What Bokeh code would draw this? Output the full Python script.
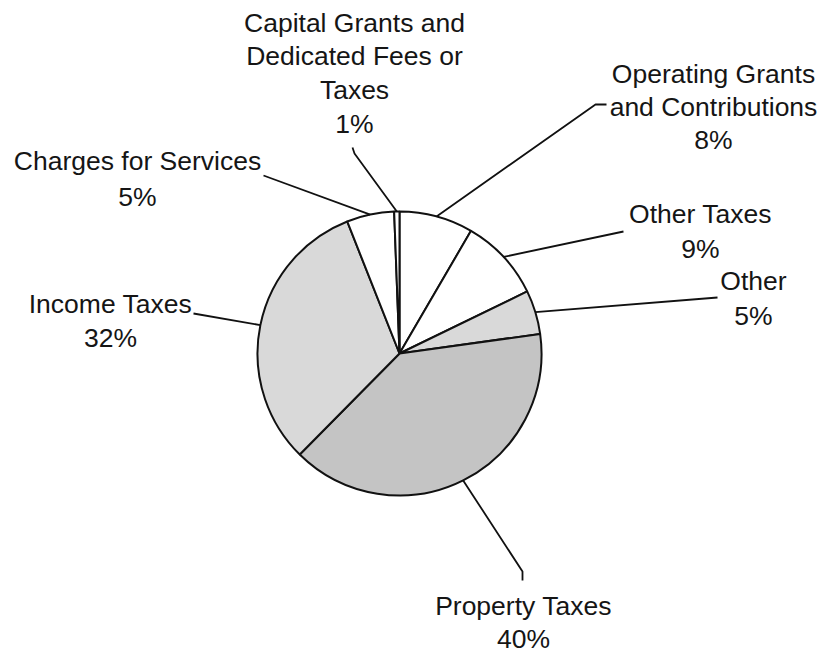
import math
from bokeh.plotting import figure
from bokeh.models import Range1d, ColumnDataSource
from bokeh.embed import file_html
from bokeh.resources import INLINE
from bokeh.core.properties import value

# ---- data (clockwise from 12 o'clock) ----
categories = [
    "Operating Grants\nand Contributions",
    "Other Taxes",
    "Other",
    "Property Taxes",
    "Income Taxes",
    "Charges for Services",
    "Capital Grants and\nDedicated Fees or\nTaxes",
]
shares = [8.4, 9.4, 5.0, 39.6, 31.6, 5.4, 0.6]
colors = ["#ffffff", "#ffffff", "#d9d9d9", "#c4c4c4", "#d9d9d9", "#ffffff", "#ffffff"]

# ---- layout (reference pixel coordinates, y downward) ----
W, H = 822, 652
CX, CY, R = 399, 353, 142
# label block: centre x, first line y, line spacing
label_pos = [
    (713, 73, 33),
    (700, 213, 35),
    (753, 280, 35),
    (523, 605, 33),
    (110, 303, 34),
    (137, 160, 36),
    (354, 22, 33.7),
]
# leader elbows after the point on the rim
leader_pts = [
    [(595, 104), (606, 104)],
    [(623, 231)],
    [(717, 297)],
    [(522, 571), (522, 580)],
    [(193, 313)],
    [(263, 175)],
    [(354, 153), (352, 147)],
]

def fy(y):
    return H - y

p = figure(width=W, height=H, output_backend="svg", toolbar_location=None,
           x_range=Range1d(0, W), y_range=Range1d(0, H),
           x_axis_location=None, y_axis_location=None, min_border=0)
p.grid.visible = False
p.outline_line_color = None
p.background_fill_color = "white"
p.border_fill_color = "white"

total = sum(shares)
starts, ends, mids = [], [], []
cum = 0.0
for s in shares:
    a0 = math.pi / 2 - 2 * math.pi * cum / total
    cum += s
    a1 = math.pi / 2 - 2 * math.pi * cum / total
    starts.append(a1)
    ends.append(a0)
    mids.append((a0 + a1) / 2)

src = ColumnDataSource(dict(x=[CX] * len(shares), y=[fy(CY)] * len(shares),
                            start=starts, end=ends, color=colors))
p.wedge(x="x", y="y", radius=R, start_angle="start", end_angle="end",
        fill_color="color", line_color="#111111", line_width=2, source=src)

# leader lines
xs, ys = [], []
for m, pts in zip(mids, leader_pts):
    lx = [CX + R * math.cos(m)] + [pt[0] for pt in pts]
    ly = [fy(CY) + R * math.sin(m)] + [fy(pt[1]) for pt in pts]
    xs.append(lx)
    ys.append(ly)
p.multi_line(xs=xs, ys=ys, line_color="#111111", line_width=1.8)

# labels
tx, ty, tt = [], [], []
for name, s, (lx, ly, sp) in zip(categories, shares, label_pos):
    lines = name.split("\n") + [f"{round(s)}%"]
    for i, ln in enumerate(lines):
        tx.append(lx)
        ty.append(fy(ly + i * sp))
        tt.append(ln)
p.text(x=tx, y=ty, text=tt, text_align="center", text_baseline="middle",
       text_font=value("Liberation Sans"), text_font_size="26.5px", text_color="#151515")

open("out.html", "w").write(file_html(p, INLINE))
